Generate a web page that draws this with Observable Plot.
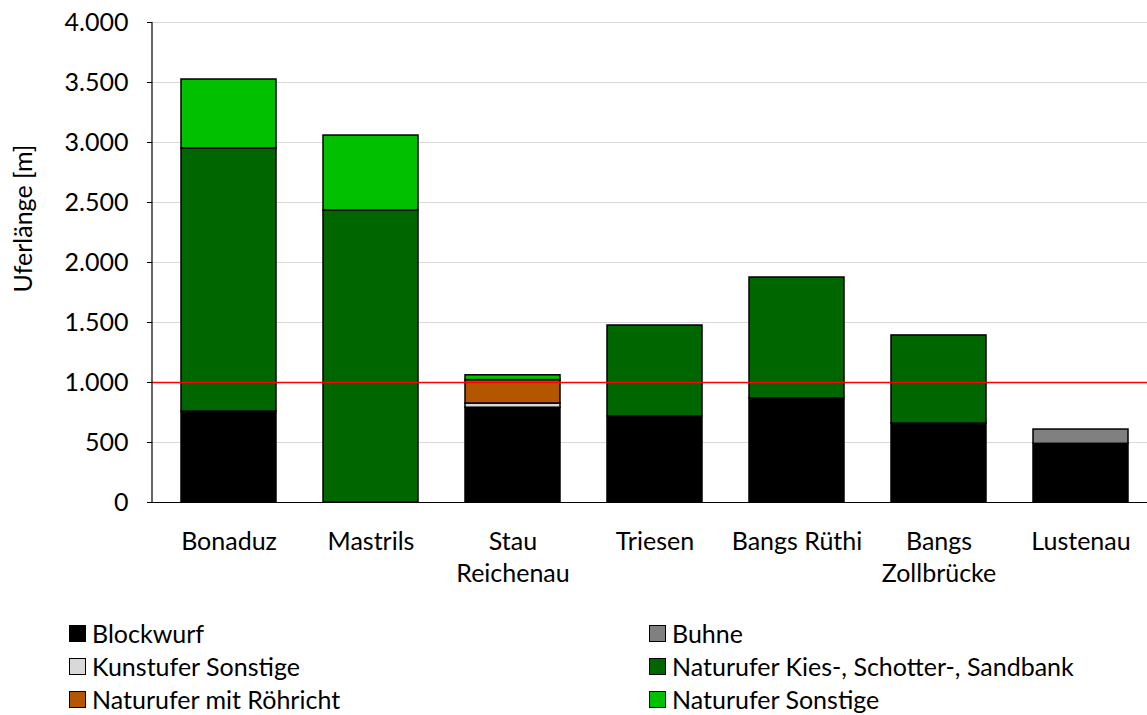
<!DOCTYPE html>
<html><head><meta charset="utf-8">
<script src="https://cdn.jsdelivr.net/npm/d3@7"></script>
<script src="https://cdn.jsdelivr.net/npm/@observablehq/plot@0.6"></script>
<style>
body{margin:0;background:#fff;font-family:Lato,"Open Sans",sans-serif}
#chart{position:relative;width:1147px;height:715px;overflow:hidden}
#legend{position:absolute;left:0;top:620px;width:1147px;font-size:25px;color:#000}
.item{position:absolute;display:flex;align-items:center;height:26px;white-space:nowrap}
.sw{width:17px;height:17px;border:1px solid #000;margin-right:6px;box-sizing:border-box}
</style></head><body><div id="chart"></div>
<script>
const categories = ["Bonaduz","Mastrils","Stau\nReichenau","Triesen","Bangs Rüthi","Bangs\nZollbrücke","Lustenau"];
const seriesNames = ["Blockwurf","Buhne","Kunstufer Sonstige","Naturufer Kies-, Schotter-, Sandbank","Naturufer mit Röhricht","Naturufer Sonstige"];
const seriesColors = ["#000000","#808080","#d9d9d9","#006600","#b45500","#00c000"];
const blockwurf  = [758,   0, 790, 717,  867, 658, 489];
const buhne      = [  0,   0,   0,   0,    0,   0, 119];
const kunstufer  = [  0,   0,  35,   0,    0,   0,   0];
const kies       = [2192,2433,  0, 758, 1008, 734,   0];
const roehricht  = [  0,   0, 195,   0,    0,   0,   0];
const sonstige   = [575, 625,  40,   0,    0,   0,   0];
const yTicks = [0,500,1000,1500,2000,2500,3000,3500,4000];
const threshold = [1000];
const yTitle = ["Uferlänge [m]"];

const seriesValues = [blockwurf,buhne,kunstufer,kies,roehricht,sonstige];
const data = [];
seriesNames.forEach((s,i)=>categories.forEach((c,j)=>{
  if (seriesValues[i][j] > 0) data.push({cat:c, series:s, value:seriesValues[i][j]});
}));
const fmt = d => d3.format(",")(d).replace(/,/g,".");

// left axis line along the frame edge
const axisLine = (index, scales, values, dims) => {
  const y0 = scales.y(0), y1 = scales.y(4000);
  const l = document.createElementNS("http://www.w3.org/2000/svg","line");
  l.setAttribute("x1", dims.marginLeft); l.setAttribute("x2", dims.marginLeft);
  l.setAttribute("y1", y0); l.setAttribute("y2", y1);
  l.setAttribute("stroke", "#000"); l.setAttribute("stroke-width", 1.2);
  return l;
};

const plot = Plot.plot({
  width:1147, height:600,
  marginLeft:152, marginRight:0, marginTop:22, marginBottom:98,
  style:{fontFamily:"Lato, 'Open Sans', sans-serif", fontSize:"25px", color:"#000", background:"#fff"},
  x:{domain:categories, range:[155,1153], paddingInner:0.333, paddingOuter:0.1665, label:null},
  y:{domain:[0,4000], label:null},
  color:{domain:seriesNames, range:seriesColors},
  marks:[
    Plot.gridY(yTicks,{stroke:"#d9d9d9", strokeOpacity:1, strokeWidth:1}),
    Plot.barY(data, Plot.stackY({x:"cat", y:"value", fill:"series", order:seriesNames, stroke:"#000", strokeWidth:1.5})),
    Plot.ruleY([0],{stroke:"#000", strokeWidth:1.2}),
    Plot.ruleY(threshold,{stroke:"#ff0000", strokeWidth:1.5}),
    axisLine,
    Plot.axisY(yTicks,{tickFormat:fmt, tickSize:5, tickPadding:19, stroke:"#000", strokeOpacity:1, fontSize:25, label:null}),
    Plot.axisX({tickSize:0, tickPadding:25, fontSize:25, lineHeight:1.28, label:null}),
    Plot.text(yTitle, {text:d=>d, frameAnchor:"left", textAnchor:"middle", rotate:-90, dx:-129, dy:-44, fontSize:25, fill:"#000"})
  ]
});
document.getElementById("chart").appendChild(plot);

const legend = document.createElement("div");
legend.id = "legend";
const pos = [[69,0],[649,0],[69,33],[649,33],[69,66],[649,66]];
seriesNames.forEach((name,k)=>{
  const it = document.createElement("div");
  it.className="item";
  it.style.left = pos[k][0]+"px"; it.style.top = pos[k][1]+"px";
  it.innerHTML = `<div class="sw" style="background:${seriesColors[k]}"></div><span>${name}</span>`;
  legend.appendChild(it);
});
document.getElementById("chart").appendChild(legend);
</script></body></html>
